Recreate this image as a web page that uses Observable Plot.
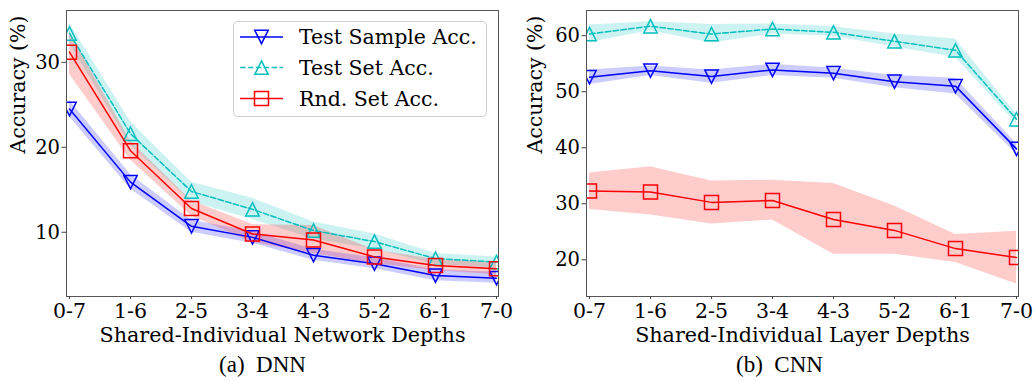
<!DOCTYPE html>
<html><head><meta charset="utf-8">
<script src="https://cdn.jsdelivr.net/npm/d3@7"></script>
<script src="https://cdn.jsdelivr.net/npm/@observablehq/plot@0.6"></script>
<style>
body{margin:0;background:#fff;}
#wrap{position:relative;width:1034px;height:380px;display:flex;}
.panel{position:relative;width:517px;height:380px;}
.cap{font-family:"Liberation Serif","Times New Roman",Times,serif;font-size:23px;text-align:center;white-space:pre;height:30px;line-height:30px;color:#000;}
.legend{position:absolute;}
svg text{font-family:"DejaVu Serif",serif !important;}
</style></head><body><div id="wrap"></div>
<script>
// ---- data ----
const xLabels = ["0-7","1-6","2-5","3-4","4-3","5-2","6-1","7-0"];
const seriesNames = ["Test Sample Acc.","Test Set Acc.","Rnd. Set Acc."];
const seriesColors = ["#0000ff","#00bfbf","#ff0000"];

// (a) DNN
const dnnSample   = [24.5, 15.9, 10.7, 9.4, 7.3, 6.3, 4.9, 4.6];
const dnnSampleLo = [23.6, 15.1, 10.0, 8.7, 6.7, 5.7, 4.3, 4.0];
const dnnSampleHi = [25.5, 16.8, 11.4, 10.1, 8.0, 7.0, 5.6, 5.3];
const dnnSet      = [33.4, 21.6, 14.8, 12.7, 10.2, 8.9, 6.9, 6.5];
const dnnSetLo    = [32.2, 20.3, 13.6, 11.5, 9.2, 8.0, 6.2, 5.8];
const dnnSetHi    = [34.6, 23.0, 15.9, 14.0, 11.2, 9.8, 7.5, 7.1];
const dnnRnd      = [31.2, 19.6, 12.8, 9.8, 9.1, 7.1, 6.1, 5.7];
const dnnRndLo    = [28.6, 18.5, 11.9, 8.8, 7.5, 6.3, 5.5, 5.0];
const dnnRndHi    = [33.6, 20.7, 13.7, 10.9, 10.8, 7.9, 6.8, 6.4];

// (b) CNN
const cnnSample   = [52.6, 53.75, 52.7, 53.9, 53.3, 51.8, 51.0, 39.8];
const cnnSampleLo = [51.3, 52.9, 51.5, 52.9, 52.4, 50.7, 49.6, 38.9];
const cnnSampleHi = [53.9, 54.6, 53.9, 54.9, 54.2, 52.9, 52.4, 40.7];
const cnnSet      = [60.3, 61.7, 60.3, 61.2, 60.6, 59.0, 57.4, 45.1];
const cnnSetLo    = [58.8, 60.9, 58.7, 60.3, 59.9, 58.0, 56.1, 44.3];
const cnnSetHi    = [61.9, 62.5, 62.0, 62.1, 61.6, 60.3, 59.4, 46.0];
const cnnRnd      = [32.3, 32.1, 30.25, 30.6, 27.2, 25.25, 22.0, 20.4];
const cnnRndLo    = [29.0, 28.0, 26.4, 27.1, 21.0, 21.0, 19.5, 15.7];
const cnnRndHi    = [35.5, 36.6, 34.05, 34.2, 33.6, 29.6, 24.5, 25.1];

const dnnTicks = [10, 20, 30];
const cnnTicks = [20, 30, 40, 50, 60];

// ---- symbols ----
const triDown = {draw(c, s){const r=Math.sqrt(s/Math.PI); c.moveTo(-r,-r); c.lineTo(r,-r); c.lineTo(0,r); c.closePath();}};
const triUp   = {draw(c, s){const r=Math.sqrt(s/Math.PI); c.moveTo(0,-r); c.lineTo(r,r); c.lineTo(-r,r); c.closePath();}};
const square  = {draw(c, s){const r=Math.sqrt(s/Math.PI); c.rect(-r,-r,2*r,2*r);}};
const symbols = [triDown, triUp, square];
const radii = [6.7, 6.7, 7];
const dashes = [null, "5.5,2.4", null];
const FONT = '"DejaVu Serif", serif';

function rows(v, lo, hi){ return xLabels.map((x,i)=>({x, y:v[i], lo:lo[i], hi:hi[i]})); }

function makePanel(cfg){
  const marks = [];
  cfg.series.forEach((s,k)=>{
    marks.push(Plot.areaY(rows(...s), {x:"x", y1:"lo", y2:"hi", fill:seriesColors[k], fillOpacity:0.2, clip:true}));
  });
  cfg.series.forEach((s,k)=>{
    const d = rows(...s);
    marks.push(Plot.line(d, {x:"x", y:"y", stroke:seriesColors[k], strokeWidth:1.5, strokeDasharray:dashes[k], clip:true}));
    marks.push(Plot.dot(d, {x:"x", y:"y", stroke:seriesColors[k], strokeWidth:1.5, fill:"none", symbol:symbols[k], r:radii[k], clip:true}));
  });
  marks.push(Plot.frame({stroke:"#555", strokeWidth:1}));
  marks.push(Plot.axisY({ticks:cfg.ticks, tickSize:4.5, tickPadding:2, fontSize:19.5, fontFamily:FONT, stroke:"#444", fill:"#000", label:null}));
  marks.push(Plot.axisX({tickSize:3, tickPadding:4, fontSize:20.5, fontFamily:FONT, stroke:"#444", fill:"#000", label:null}));
  marks.push(Plot.text([cfg.xLabel], {frameAnchor:"bottom", text:d=>d, dy:39, lineAnchor:"middle", fontSize:20.7, fontFamily:FONT, fill:"#000"}));
  marks.push(Plot.text(["Accuracy (%)"], {frameAnchor:"left", text:d=>d, dx:-cfg.ml+18, rotate:-90, lineAnchor:"middle", fontSize:20.5, fontFamily:FONT, fill:"#000"}));
  return Plot.plot({
    width:517, height:350,
    marginLeft:cfg.ml, marginRight:cfg.mr, marginTop:10, marginBottom:54,
    style:{fontFamily:FONT, background:"white", color:"#000", overflow:"visible"},
    x:{type:"point", domain:xLabels, padding:0},
    y:{domain:cfg.yDomain},
    marks
  });
}

const panels = [
  {cap:"(a)  DNN", ml:66, mr:19, yDomain:[2.44, 36.1], ticks:dnnTicks, xLabel:"Shared-Individual Network Depths",
   series:[[dnnSample,dnnSampleLo,dnnSampleHi],[dnnSet,dnnSetLo,dnnSetHi],[dnnRnd,dnnRndLo,dnnRndHi]], legend:true},
  {cap:"(b)  CNN", ml:69, mr:16, yDomain:[13.45, 64.5], ticks:cnnTicks, xLabel:"Shared-Individual Layer Depths",
   series:[[cnnSample,cnnSampleLo,cnnSampleHi],[cnnSet,cnnSetLo,cnnSetHi],[cnnRnd,cnnRndLo,cnnRndHi]], legend:false}
];

const wrap = document.getElementById("wrap");
panels.forEach(cfg=>{
  const div = document.createElement("div");
  div.className = "panel";
  div.appendChild(makePanel(cfg));
  const cap = document.createElement("div");
  cap.className = "cap";
  cap.style.paddingLeft = "8px";
  cap.textContent = cfg.cap;
  div.appendChild(cap);
  if (cfg.legend) {
    const W = 254, H = 96;
    const svg = d3.create("svg").attr("class","legend").attr("width",W).attr("height",H)
      .style("left","233px").style("top","21px");
    svg.append("rect").attr("x",0.5).attr("y",0.5).attr("width",W-1).attr("height",H-1).attr("rx",4)
      .attr("fill","white").attr("fill-opacity",0.8).attr("stroke","#d0d0d0");
    const ys = [16, 46.6, 77.6];
    seriesNames.forEach((n,k)=>{
      const g = svg.append("g").attr("transform",`translate(0,${ys[k]})`);
      g.append("line").attr("x1",7).attr("x2",50).attr("stroke",seriesColors[k]).attr("stroke-width",1.5)
        .attr("stroke-dasharray",dashes[k]);
      g.append("path").attr("transform","translate(28.5,0)")
        .attr("d", d3.symbol(symbols[k], Math.PI*radii[k]*radii[k])())
        .attr("fill","none").attr("stroke",seriesColors[k]).attr("stroke-width",1.5);
      g.append("text").attr("x",66).attr("y",0).attr("dy","0.35em").text(n)
        .style("font-size","20.5px").attr("fill","#000");
    });
    div.appendChild(svg.node());
  }
  wrap.appendChild(div);
});
</script></body></html>
